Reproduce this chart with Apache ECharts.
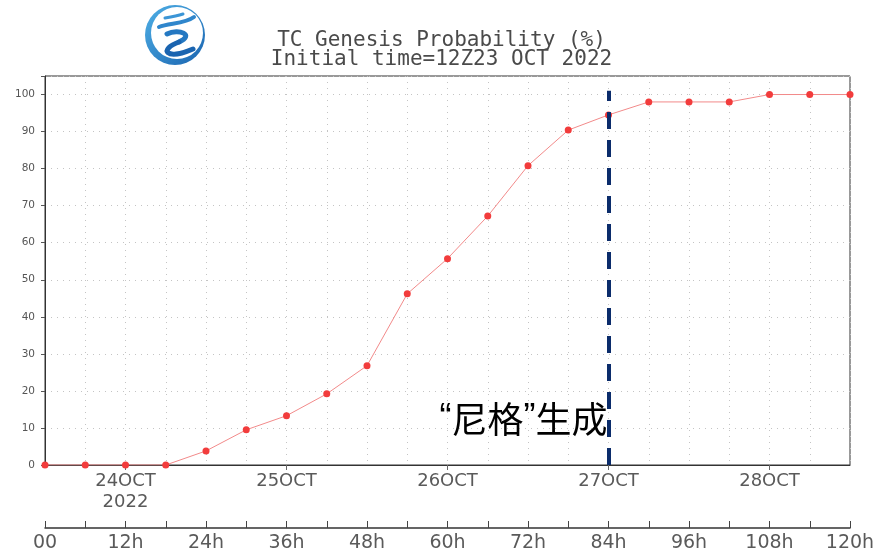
<!DOCTYPE html>
<html>
<head>
<meta charset="utf-8">
<script src="https://cdn.jsdelivr.net/npm/echarts@6/dist/echarts.min.js"></script>
<style>
  html, body { margin: 0; padding: 0; background: #fff; }
  #chart { width: 883px; height: 555px; }
</style>
</head>
<body>
<div id="chart"></div>
<script>
// forecast hours (every 6h) and genesis probability (%)
const hours = [0, 6, 12, 18, 24, 30, 36, 42, 48, 54, 60, 66, 72, 78, 84, 90, 96, 102, 108, 114, 120]
const probability = [0, 0, 0, 0, 3.8, 9.5, 13.3, 19.2, 26.8, 46.2, 55.7, 67.2, 80.8, 90.4, 94.5, 98, 98, 98, 100, 100, 100]
const dateHours = [12, 36, 60, 84, 108]
const dateLabels = ['24OCT\n2022', '25OCT', '26OCT', '27OCT', '28OCT']
const genesisHour = 84
const genesisName = '尼格'

const cats = hours.map(String)
const isDate = (i) => dateHours.indexOf(hours[i]) >= 0
const font = 'DejaVu Sans'

const chart = echarts.init(document.getElementById('chart'))

const blue = new echarts.graphic.LinearGradient(0, 0, 1, 1, [
  { offset: 0, color: '#4fb0e6' },
  { offset: 1, color: '#1a64b0' }
])

const option = {
  backgroundColor: '#fff',
  animation: false,
  title: {
    text: 'TC Genesis Probability (%)\nInitial time=12Z23 OCT 2022',
    left: 'center',
    top: 26,
    textStyle: {
      fontFamily: 'DejaVu Sans Mono',
      fontSize: 21,
      fontWeight: 'normal',
      color: '#4a4a4a',
      lineHeight: 19
    }
  },
  grid: {
    left: 45,
    right: 33,
    top: 76,
    bottom: 90,
    show: true,
    borderColor: '#333',
    borderWidth: 1
  },
  xAxis: [
    {
      type: 'category',
      data: cats,
      boundaryGap: false,
      position: 'bottom',
      axisLine: { lineStyle: { color: '#333', width: 1 } },
      axisTick: { show: true, interval: (i) => isDate(i), length: 5, lineStyle: { color: '#666' } },
      axisLabel: {
        interval: (i) => isDate(i),
        formatter: (v) => dateLabels[dateHours.indexOf(Number(v))],
        fontFamily: font,
        fontSize: 18,
        lineHeight: 21,
        color: '#5a5a5a',
        margin: 6
      },
      splitLine: { show: true, interval: 0, lineStyle: { color: '#c4c4c4', type: [1, 5], width: 1 } }
    },
    {
      type: 'category',
      data: cats,
      boundaryGap: false,
      position: 'bottom',
      offset: 63,
      axisLine: { lineStyle: { color: '#333', width: 1.5 } },
      axisTick: { show: true, inside: true, interval: 0, length: 7, lineStyle: { color: '#444' } },
      axisLabel: {
        interval: 1,
        formatter: (v) => (v === '0' ? '00' : v + 'h'),
        fontFamily: font,
        fontSize: 19,
        color: '#5a5a5a',
        margin: 6
      },
      splitLine: { show: false }
    }
  ],
  yAxis: {
    type: 'value',
    min: 0,
    max: 105,
    interval: 10,
    axisLine: { show: true, lineStyle: { color: '#333' } },
    axisTick: { show: true, length: 4, lineStyle: { color: '#555' } },
    axisLabel: {
      formatter: (v) => (v % 10 === 0 ? v : ''),
      fontFamily: font,
      fontSize: 10.5,
      color: '#555',
      margin: 10
    },
    splitLine: { show: true, lineStyle: { color: '#c4c4c4', type: [1, 5], width: 1 } }
  },
  series: [
    {
      type: 'line',
      data: probability,
      symbol: 'circle',
      symbolSize: 7,
      itemStyle: { color: '#f23c3c' },
      lineStyle: { color: '#f28a8a', width: 1 },
      markLine: {
        silent: true,
        symbol: 'none',
        label: { show: false },
        lineStyle: { color: '#0b2c6b', width: 4, type: [17, 11] },
        data: [[{ coord: [String(genesisHour), 0] }, { coord: [String(genesisHour), 101] }]]
      },
      markPoint: {
        silent: true,
        symbol: 'circle',
        symbolSize: 0,
        data: [{ coord: [String(genesisHour), 12.3] }],
        label: {
          show: true,
          position: 'left',
          distance: 1,
          formatter: '{q|“}{c|' + genesisName + '}{q|”}{c|生成}',
          rich: {
            q: { fontFamily: 'Liberation Sans', fontSize: 36, color: '#000' },
            c: { fontFamily: 'Noto Sans CJK SC', fontSize: 36, color: '#000' }
          }
        }
      }
    }
  ],
  graphic: [
    {
      type: 'group',
      x: 145,
      y: 5,
      children: [
        { type: 'circle', shape: { cx: 30, cy: 30, r: 30 }, style: { fill: blue } },
        { type: 'circle', shape: { cx: 32, cy: 28, r: 26 }, style: { fill: '#fff' } },
        { type: 'bezierCurve', shape: { x1: 14, y1: 22, cpx1: 24, cpy1: 18, cpx2: 40, cpy2: 19, x2: 49, y2: 12 },
          style: { fill: 'none', stroke: '#2f86cc', lineWidth: 4, lineCap: 'round' } },
        { type: 'bezierCurve', shape: { x1: 20, y1: 13, cpx1: 26, cpy1: 12, cpx2: 32, cpy2: 11, x2: 38, y2: 9 },
          style: { fill: 'none', stroke: '#3b95d6', lineWidth: 3, lineCap: 'round' } },
        { type: 'bezierCurve', shape: { x1: 22, y1: 29, cpx1: 34, cpy1: 23, cpx2: 50, cpy2: 30, x2: 34, y2: 37 },
          style: { fill: 'none', stroke: '#2478c2', lineWidth: 5, lineCap: 'round' } },
        { type: 'bezierCurve', shape: { x1: 34, y1: 37, cpx1: 14, cpy1: 44, cpx2: 20, cpy2: 56, x2: 48, y2: 44 },
          style: { fill: 'none', stroke: '#1a64b0', lineWidth: 5, lineCap: 'round' } }
      ]
    }
  ]
}

chart.setOption(option)
</script>
</body>
</html>
